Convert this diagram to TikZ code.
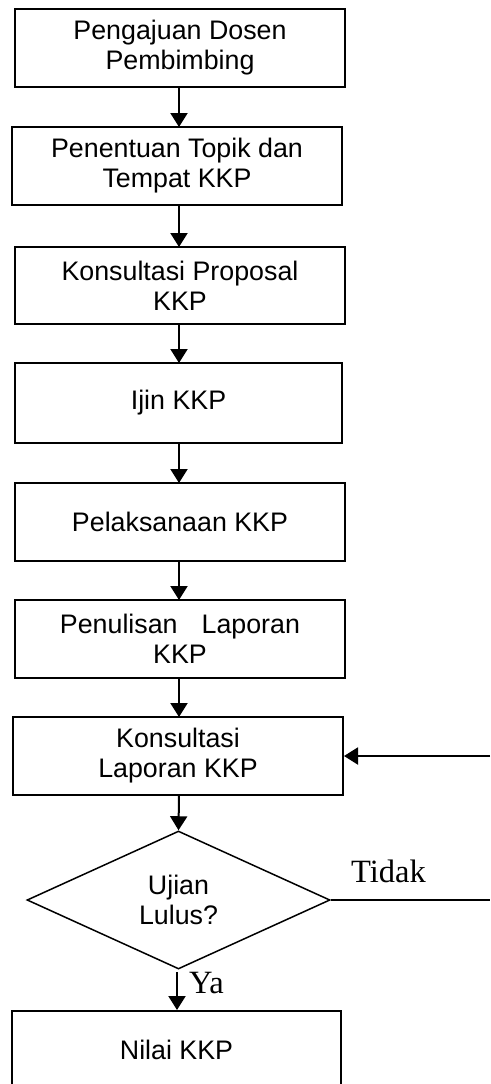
\documentclass[tikz,border=0pt]{standalone}
\usepackage{fontspec}
\setmainfont{Liberation Sans}
\newfontfamily\labelfont{Liberation Serif}
\usetikzlibrary{shapes.geometric,arrows.meta}

\begin{document}
\begin{tikzpicture}[x=1pt,y=-1pt,
    stepbox/.style={draw,line width=2pt,minimum width=330pt,minimum height=78pt,
      inner sep=0pt,align=center,font=\fontsize{26.8}{30}\selectfont},
    decision/.style={draw,diamond,line width=1.5pt,minimum width=303pt,minimum height=138pt,
      inner sep=0pt,aspect=2.2,align=center,font=\fontsize{26.8}{30}\selectfont},
    flow/.style={line width=2pt,-{Triangle[width=17pt 0,length=14pt 0]}},
    answer/.style={font=\labelfont\fontsize{32.5}{36}\selectfont,inner sep=0pt}]
  \useasboundingbox (0,0) rectangle (490,1084);

  \node[stepbox] (dosen)    at (180,48)  {Pengajuan Dosen\\Pembimbing};
  \node[stepbox] (topik)    at (177,166) {Penentuan Topik dan\\Tempat KKP};
  \node[stepbox,minimum height=77pt] (proposal) at (180,285.5) {Konsultasi Proposal\\KKP};
  \node[stepbox,minimum height=80pt,minimum width=327pt] (ijin) at (178.5,403) {Ijin KKP};
  \node[stepbox] (laksana)  at (180,522) {Pelaksanaan KKP};
  \node[stepbox] (tulis)    at (180,639) {Penulisan\hspace{24pt}Laporan\\KKP};
  \node[stepbox] (konsul)   at (178,756) {Konsultasi\\Laporan KKP};
  \node[decision] (ujian)   at (178.5,900) {Ujian\\Lulus?};
  \node[stepbox,minimum width=329pt] (nilai) at (176.5,1050) {Nilai KKP};

  \coordinate (tidakEnd) at (490,900);
  \coordinate (tidakTop) at (490,756);

  \draw[flow] (179,87) -- (179,127);
  \draw[flow] (179,205) -- (179,247);
  \draw[flow] (179,324) -- (179,363);
  \draw[flow] (179,443) -- (179,483);
  \draw[flow] (179,561) -- (179,600);
  \draw[flow] (179,678) -- (179,717);
  \draw[flow] (179,795) -- (ujian.north);
  \draw[flow] (177,972) -- (nilai.north -| 177,0);
  \draw[line width=2pt] (ujian.east) -- (tidakEnd);
  \draw[flow] (tidakTop) -- (konsul.east);

  \node[answer,anchor=base west] (tidak) at (351,882) {Tidak};
  \node[answer,anchor=base west] (ya) at (189,993) {Ya};
\end{tikzpicture}
\end{document}
